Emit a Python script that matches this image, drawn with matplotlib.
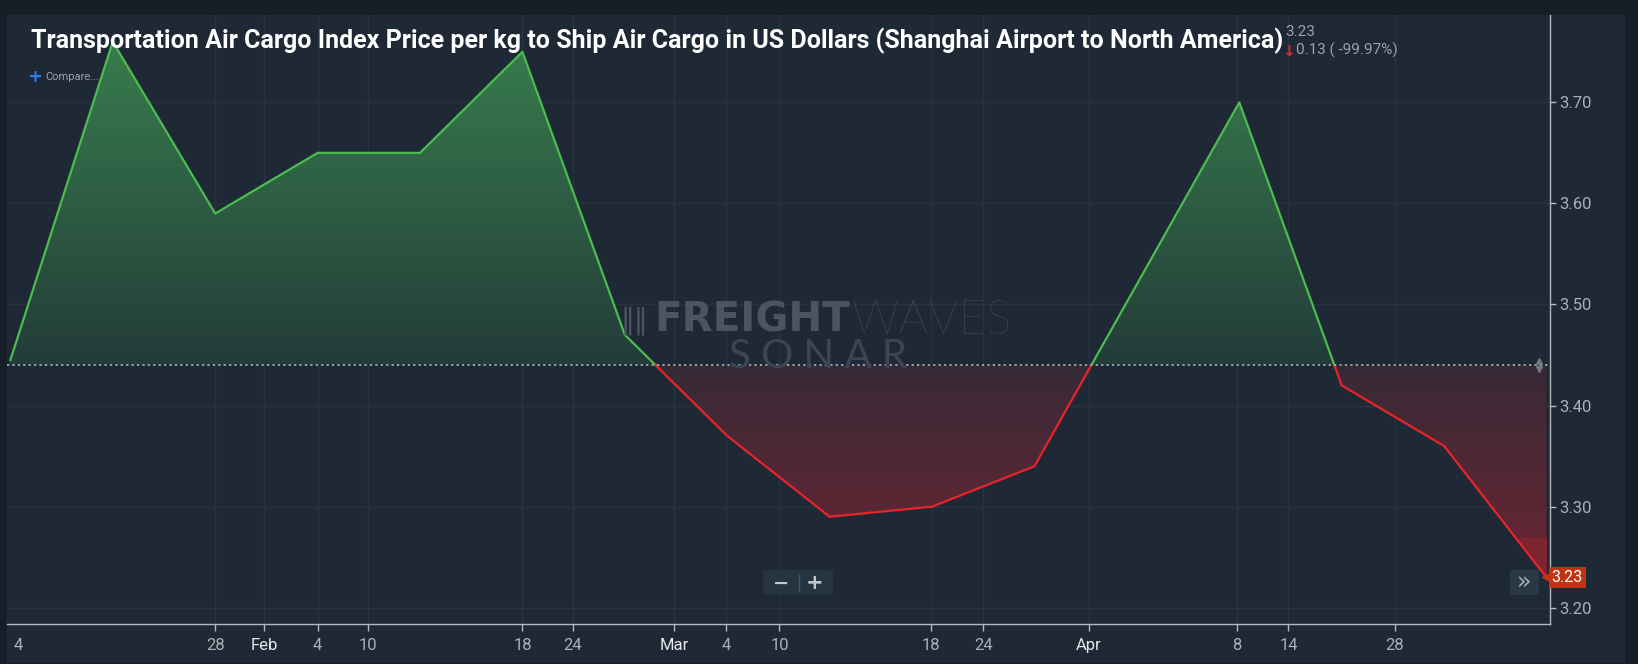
import numpy as np
import matplotlib
matplotlib.use('Agg')
import matplotlib.pyplot as plt
from matplotlib.colors import LinearSegmentedColormap
from matplotlib.patches import PathPatch, Rectangle, FancyBboxPatch
from matplotlib.path import Path

# weekly index price (USD per kg), Shanghai -> North America
price = [3.445, 3.76, 3.59, 3.65, 3.65, 3.75, 3.47, 3.37,
         3.29, 3.30, 3.34, 3.52, 3.70, 3.42, 3.36, 3.23]
base = 3.44
last = 3.23

tick_pos = [0.03, 2.0, 2.48, 3.0, 3.49, 5.0, 5.49, 6.48, 6.99, 7.51,
            8.99, 9.5, 10.53, 11.98, 12.48, 13.52]
tick_lab = ['4', '28', 'Feb', '4', '10', '18', '24', 'Mar', '4', '10',
            '18', '24', 'Apr', '8', '14', '28']
month_lab = ['Feb', 'Mar', 'Apr']
y_ticks = [3.20, 3.30, 3.40, 3.50, 3.60, 3.70]

title = 'Transportation Air Cargo Index Price per kg to Ship Air Cargo in US Dollars (Shanghai Airport to North America)'

W, H = 1638, 664
BG = '#161e27'
PANEL = '#1e2935'
GRID = '#27343f'
TXT = '#aab0b6'


def px(x, y):
    return x / W, 1 - y / H


fig = plt.figure(figsize=(W / 100, H / 100), dpi=100)
fig.patch.set_facecolor(BG)
fig.patches.append(Rectangle(px(7, 663), 1618 / W, 648 / H, transform=fig.transFigure,
                             facecolor=PANEL, edgecolor='none', zorder=-5))

ax = fig.add_axes([7 / W, 1 - 624 / H, 1543 / W, 609 / H])
ax.set_facecolor(PANEL)
x = np.arange(len(price))
y = np.array(price)

# grid
for t in y_ticks:
    ax.axhline(t, color=GRID, lw=1, zorder=1)
for t in tick_pos[1:]:
    ax.axvline(t, color=GRID, lw=1, zorder=1)

# insert baseline crossings so the colours split cleanly
xs, ys = [x[0]], [y[0]]
for i in range(1, len(y)):
    a, b = y[i - 1] - base, y[i] - base
    if a * b < 0:
        t = a / (a - b)
        xs.append(x[i - 1] + t)
        ys.append(base)
    xs.append(x[i])
    ys.append(y[i])
xs, ys = np.array(xs), np.array(ys)

# gradient fills
green_cm = LinearSegmentedColormap.from_list('g', ['#233c39', '#387d4e'])
red_cm = LinearSegmentedColormap.from_list('r', ['#6c2532', '#372a37'])
grad = np.linspace(0, 1, 256).reshape(-1, 1)

up = ax.fill_between(xs, ys, base, where=ys >= base, color='none', lw=0)
clip = PathPatch(Path.make_compound_path(*up.get_paths()), transform=ax.transData,
                 facecolor='none', edgecolor='none')
ax.add_patch(clip)
im = ax.imshow(grad, cmap=green_cm, aspect='auto', origin='lower',
               extent=[xs[0], xs[-1], base, 3.76], zorder=2)
im.set_clip_path(clip)

dn = ax.fill_between(xs, ys, base, where=ys <= base, color='none', lw=0)
clip2 = PathPatch(Path.make_compound_path(*dn.get_paths()), transform=ax.transData,
                  facecolor='none', edgecolor='none')
ax.add_patch(clip2)
im2 = ax.imshow(grad, cmap=red_cm, aspect='auto', origin='lower',
                extent=[xs[0], xs[-1], last, base], zorder=2)
im2.set_clip_path(clip2)

# brighter band of the last segment in the original
seg_x = np.linspace(14.74, 15, 20)
seg_y = np.interp(seg_x, x, y)
ax.fill_between(seg_x, seg_y, 3.27, where=seg_y <= 3.27, color='#7c2530', lw=0, zorder=3)

ax.set_xlim(-0.033, 15.034)
ax.set_ylim(3.1839, 3.7864)

ax.plot(xs, np.where(ys >= base, ys, np.nan), color='#4cbb50', lw=1.6, zorder=4)
ax.plot(xs, np.where(ys <= base, ys, np.nan), color='#e8232a', lw=1.6, zorder=4)

ax.axhline(base, color='#a3abb3', lw=1.3, ls=(0, (1.2, 1.8)), zorder=5)
ax.plot([14.93], [base + 0.004], marker='^', ms=4, color='#6f7a85', zorder=6)
ax.plot([14.93], [base - 0.004], marker='v', ms=4, color='#6f7a85', zorder=6)

# axes styling
for s in ['top', 'left']:
    ax.spines[s].set_visible(False)
for s in ['bottom', 'right']:
    ax.spines[s].set_color('#b4b8bc')
    ax.spines[s].set_linewidth(1)
ax.yaxis.tick_right()
ax.set_yticks(y_ticks)
ax.set_yticklabels(['%.2f' % v for v in y_ticks], fontsize=12, color=TXT, family='Roboto')
ax.tick_params(axis='y', length=4, width=1, color='#b4b8bc', pad=3)
ax.set_xticks(tick_pos)
ax.set_xticklabels(tick_lab, fontsize=12, family='Roboto')
ax.tick_params(axis='x', length=5, width=1, color='#b4b8bc', pad=5)
for lab in ax.get_xticklabels():
    lab.set_color('#e6e8ea' if lab.get_text() in month_lab else TXT)
ax.get_xticklabels()[0].set_horizontalalignment('left')
ax.xaxis.get_major_ticks()[0].tick1line.set_visible(False)

# last price tag
ax.plot([15.03], [last], marker='<', ms=11, color='#c0350f', clip_on=False, zorder=7)
ax.text(15.05, last, '3.23', fontsize=11.5, color='white', family='Roboto',
        va='center', ha='left', zorder=8, clip_on=False,
        bbox=dict(boxstyle='square,pad=0.18', fc='#c0350f', ec='none'))

# title and header readout
fig.text(*px(31, 48), title, fontsize=18, fontweight='bold', color='white',
         family='Roboto', va='baseline', ha='left', zorder=10)
fig.text(*px(1285, 32), '3.23', fontsize=11, color='#9aa1a8', family='Roboto',
         va='center', ha='left')
fig.text(*px(1288, 51), '\u2193', fontsize=11, color='#e8232a', fontweight='bold',
         va='center', ha='center')
fig.text(*px(1296, 50), '0.13 ( -99.97%)', fontsize=11, color='#9aa1a8', family='Roboto',
         va='center', ha='left')
fig.text(*px(34.5, 77), '+', fontsize=13, color='#2f7ae5', fontweight='bold',
         va='center', ha='center')
fig.text(*px(45, 77), 'Compare...', fontsize=8, color='#9aa1a8', family='Roboto',
         va='center', ha='left')

# watermark
fig.text(*px(620, 321), '\u2016\u2016', fontsize=20, color='#4a5561', va='center', ha='left')
fig.text(*px(654, 321), 'FREIGHT', fontsize=29, fontweight='heavy', color='#4a5561',
         family='DejaVu Sans', va='center', ha='left')
fig.text(*px(852, 321), 'WAVES', fontsize=34, fontweight='light', color='#45505c',
         family='Lato', va='center', ha='left')
fig.text(*px(818, 357), 'S O N A R', fontsize=29, fontweight='normal', color='#3b4652',
         family='Lato', va='center', ha='center')

# zoom buttons
fig.patches.append(FancyBboxPatch(px(763, 595), 70 / W, 25 / H,
                                  boxstyle='round,pad=0,rounding_size=0.003',
                                  transform=fig.transFigure, fc='#263441', ec='none', zorder=9))
fig.text(*px(781, 583), '\u2212', fontsize=14, color='#c3c7cb', fontweight='bold',
         va='center', ha='center', zorder=10)
fig.text(*px(815, 583), '+', fontsize=15, color='#c3c7cb', fontweight='bold',
         va='center', ha='center', zorder=10)
fig.lines.append(plt.Line2D([799 / W, 799 / W], [1 - 591 / H, 1 - 575 / H],
                            transform=fig.transFigure, color='#46525e', lw=1, zorder=10))
fig.patches.append(FancyBboxPatch(px(1510, 595), 29 / W, 25 / H,
                                  boxstyle='round,pad=0,rounding_size=0.002',
                                  transform=fig.transFigure, fc='#2a3744', ec='none', zorder=9))
fig.text(*px(1524, 583), '\u00bb', fontsize=17, color='#a7adb3',
         va='center', ha='center', zorder=10)

fig.savefig('out.png', dpi=100, facecolor=BG)
